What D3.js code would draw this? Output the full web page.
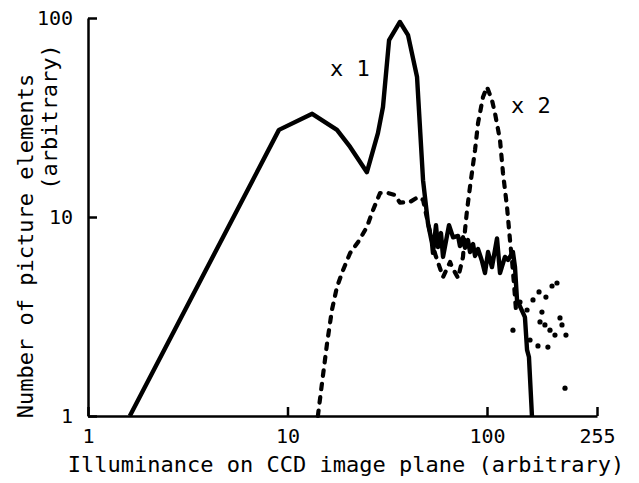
<!DOCTYPE html>
<html>
<head>
<meta charset="utf-8">
<script src="https://cdn.jsdelivr.net/npm/d3@7"></script>
<style>
  html, body { margin: 0; padding: 0; background: #fff; }
  svg { display: block; }
  text { font-family: "DejaVu Sans Mono", "Liberation Mono", monospace; fill: #000; }
</style>
</head>
<body>
<svg id="chart" width="639" height="483"></svg>
<script>
// Histogram of picture elements vs. illuminance (log-log)

// x1 exposure (solid)
const solidX = [1.62, 9.06, 13.3, 17.7, 20.6, 25.0, 28.4, 30.1, 32.3, 36.6, 40.2, 44.6, 47.8, 50.6,
  53.0, 53.6, 55.5, 56.8, 58.8, 60.2, 64.5, 67.6, 71.6, 73.2, 75.8, 77.6, 80.3, 82.2, 85.1, 87.1,
  90.2, 94.4, 97.7,
  100.9, 104.3, 108.9, 111.7, 116.5, 119.6, 124.7, 126.9, 129.1, 138.1, 140.6, 142.9, 146.6];
const solidY = [1, 27.4, 33, 27.4, 22.5, 16.8, 26.4, 35.7, 77.5, 95.5, 82, 50.5, 15.3, 9.3,
  7.4, 6.6, 9.1, 7.07, 8.3, 6.3, 9.1, 7.9, 8.03, 7.15, 7.9, 7.0, 7.66, 6.67, 7.32, 6.37,
  6.9, 6.0, 5.23,
  6.67, 5.6, 7.8, 5.23, 6.3, 6.08, 6.67, 5.6, 3.83, 3.14, 2.15, 1.98, 1];

// x2 exposure (dashed)
const dashedX = [14.2, 14.9, 15.8, 16.7, 17.7, 19.0, 20.6, 22.6, 25.0, 26.8, 29.1, 31.9, 34.6, 36.6,
  41.1, 45.1, 47.8, 51, 55, 60.2, 65.3, 66.8, 71.6, 75.8, 77.6, 79.4, 82.2, 87.1, 90.2, 95.5,
  100, 104.3, 107.0, 111.7, 114.6, 118.6, 121.6, 123.7, 126, 128];
const dashedY = [1, 1.47, 2.33, 3.41, 4.45, 5.42, 6.59, 7.49, 8.91, 10.8, 13.2, 13.2, 12.9, 11.8,
  11.9, 12.6, 12.2, 9, 6.5, 4.99, 5.94, 5.6, 4.94, 6.3, 8.6, 10.8, 14.2, 21.7, 29.7, 40.1,
  45, 38.7, 33.3, 24.4, 16.6, 11.2, 7.66, 6.08, 4.5, 3.4];

// x2 scattered tail at high illuminance
const tailX = [124.7, 132.4, 140.6, 147.9, 155.7, 165.1, 173.9, 181.4, 144.2, 154.3, 167.9,
  159.6, 157.0, 163.7, 170.9, 178.3, 186.1, 189.3, 195.8, 194.2];
const tailY = [2.7, 3.74, 3.41, 3.83, 4.2, 3.96, 4.5, 4.66, 2.41, 2.25, 2.22,
  3.33, 2.97, 2.87, 2.7, 2.55, 3.11, 2.87, 2.55, 1.38];

const xTicks = [1, 10, 100, 255];
const yTicks = [1, 10, 100];
const seriesLabels = ["x 1", "x 2"];

const svg = d3.select("#chart");

const x = d3.scaleLog().domain([1, 100, 255]).range([88, 487, 597]);
const y = d3.scaleLog().domain([1, 100]).range([416, 18]);

// axes
const gx = svg.append("g").attr("transform", `translate(0,${y(1)})`)
  .call(d3.axisBottom(x).tickValues(xTicks).tickFormat(d3.format("d"))
    .tickSize(-9).tickSizeOuter(0).tickPadding(13));
const gy = svg.append("g").attr("transform", `translate(${x(1)},0)`)
  .call(d3.axisLeft(y).tickValues(yTicks).tickFormat(d3.format("d"))
    .tickSize(-9).tickSizeOuter(0).tickPadding(15));
[gx, gy].forEach(g => {
  g.select(".domain").attr("stroke", "#000").attr("stroke-width", 2.5);
  g.selectAll(".tick line").attr("stroke", "#000").attr("stroke-width", 2.5);
  g.selectAll(".tick text").attr("font-size", 20)
    .attr("font-family", "DejaVu Sans Mono, Liberation Mono, monospace").attr("fill", "#000");
});

const line = d3.line().x(d => x(d[0])).y(d => y(d[1]));

svg.append("path")
  .datum(d3.zip(dashedX, dashedY))
  .attr("d", line)
  .attr("fill", "none").attr("stroke", "#000")
  .attr("stroke-width", 4.2).attr("stroke-linecap", "round").attr("stroke-linejoin", "round")
  .attr("stroke-dasharray", "5.5,8");

svg.append("g").selectAll("circle")
  .data(d3.zip(tailX, tailY))
  .join("circle")
  .attr("cx", d => x(d[0])).attr("cy", d => y(d[1])).attr("r", 2.6).attr("fill", "#000");

svg.append("path")
  .datum(d3.zip(solidX, solidY))
  .attr("d", line)
  .attr("fill", "none").attr("stroke", "#000")
  .attr("stroke-width", 4.4).attr("stroke-linejoin", "round");

// series labels
svg.append("text").attr("x", 330).attr("y", 76).attr("font-size", 22).text(seriesLabels[0]);
svg.append("text").attr("x", 511).attr("y", 113).attr("font-size", 22).text(seriesLabels[1]);

// axis titles
svg.append("text").attr("x", 346).attr("y", 472).attr("text-anchor", "middle")
  .attr("font-size", 22).text("Illuminance on CCD image plane (arbitrary)");
svg.append("text").attr("transform", "translate(33,246) rotate(-90)").attr("text-anchor", "middle")
  .attr("font-size", 22).text("Number of picture elements");
svg.append("text").attr("transform", "translate(57,117) rotate(-90)").attr("text-anchor", "middle")
  .attr("font-size", 22).text("(arbitrary)");
</script>
</body>
</html>
